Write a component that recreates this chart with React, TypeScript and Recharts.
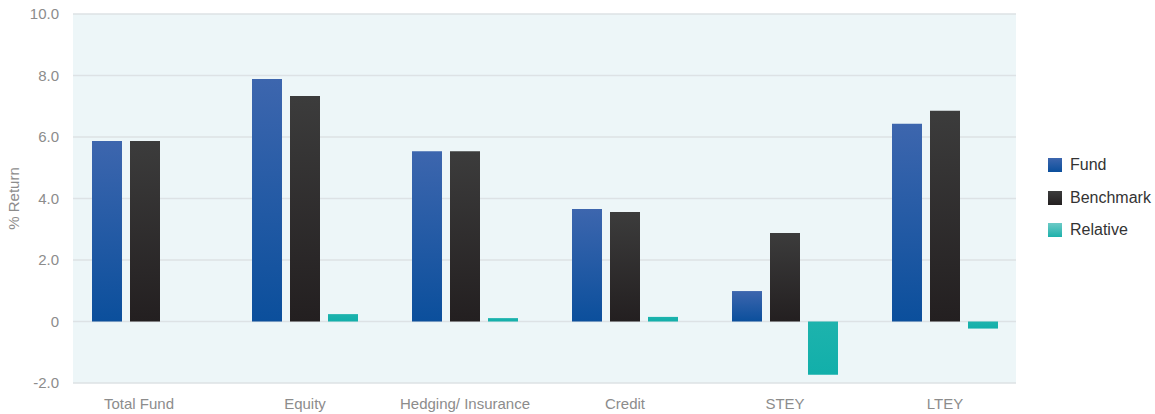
import { BarChart, Bar, XAxis, YAxis, CartesianGrid, Legend } from "recharts";

const categories = ["Total Fund", "Equity", "Hedging/ Insurance", "Credit", "STEY", "LTEY"];
const fund = [5.87, 7.89, 5.54, 3.66, 0.99, 6.43];
const benchmark = [5.87, 7.33, 5.54, 3.56, 2.88, 6.85];
const relative = [0, 0.24, 0.11, 0.15, -1.73, -0.23];
const yTicks = [-2, 0, 2, 4, 6, 8, 10];

const data = categories.map((name, i) => ({
  name,
  fund: fund[i],
  benchmark: benchmark[i],
  relative: relative[i],
}));

const series = [
  { key: "fund", label: "Fund", top: "#3d66ae", bottom: "#0b4f9c" },
  { key: "benchmark", label: "Benchmark", top: "#3c3c3c", bottom: "#231f20" },
  { key: "relative", label: "Relative", top: "#1db3ad", bottom: "#12afaa" },
];

const FONT = "'Liberation Sans', Arial, sans-serif";
const LEGEND_W = 107;

function LegendBox() {
  return (
    <div style={{ fontFamily: FONT, fontSize: 16, color: "#333" }}>
      {series.map((s) => (
        <div key={s.key} style={{ display: "flex", alignItems: "center", height: 32.5 }}>
          <div
            style={{
              width: 14,
              height: 14,
              marginRight: 8,
              background:
                s.key === "relative"
                  ? "linear-gradient(#6ccac6, #1eb1ab)"
                  : `linear-gradient(${s.top}, ${s.bottom})`,
            }}
          />
          <span>{s.label}</span>
        </div>
      ))}
    </div>
  );
}

// first label sits a little left of its group in the original
function CategoryTick(props: any) {
  const { x, y, payload, index } = props;
  return (
    <text
      x={x + (index === 0 ? -6 : 0)}
      y={y}
      dy="0.71em"
      textAnchor="middle"
      fill="#8c8c8c"
      fontSize={15}
      fontFamily={FONT}
    >
      {payload.value}
    </text>
  );
}

export default function App() {
  return (
    <div style={{ position: "absolute", left: 0, top: 0, width: 1155, height: 414, background: "#fff" }}>
      <BarChart
        width={1155}
        height={414}
        data={data}
        margin={{ top: 14, right: 139 - LEGEND_W, bottom: 0, left: 13 }}
        barSize={30}
        barGap={8}
      >
        <defs>
          {series.map((s) => (
            <linearGradient key={s.key} id={`grad-${s.key}`} x1="0" y1="0" x2="0" y2="1">
              <stop offset="0%" stopColor={s.top} />
              <stop offset="100%" stopColor={s.bottom} />
            </linearGradient>
          ))}
        </defs>
        <CartesianGrid
          vertical={false}
          fill="#edf6f8"
          stroke="#dde2e5"
          strokeWidth={1.5}
        />
        <XAxis
          dataKey="name"
          axisLine={false}
          tickLine={false}
          tickSize={0}
          tickMargin={15}
          height={31}
          interval={0}
          padding={{ left: -8, right: -9 }}
          tick={<CategoryTick />}
        />
        <YAxis
          width={60}
          domain={[-2, 10]}
          ticks={yTicks}
          interval={0}
          axisLine={false}
          tickLine={false}
          tickSize={0}
          tickMargin={14}
          tickFormatter={(v: number) => (v === 0 ? "0" : v.toFixed(1))}
          tick={{ fill: "#8c8c8c", fontSize: 15, fontFamily: FONT }}
          label={{
            value: "% Return",
            angle: -90,
            position: "insideLeft",
            offset: 1,
            style: { fill: "#8c8c8c", fontSize: 15, fontFamily: FONT, textAnchor: "middle" },
          }}
        />
        <Legend
          layout="vertical"
          align="right"
          verticalAlign="top"
          wrapperStyle={{ right: 0, top: 149, width: LEGEND_W }}
          content={() => <LegendBox />}
        />
        {series.map((s) => (
          <Bar
            key={s.key}
            dataKey={s.key}
            name={s.label}
            fill={`url(#grad-${s.key})`}
            isAnimationActive={false}
          />
        ))}
      </BarChart>
    </div>
  );
}
